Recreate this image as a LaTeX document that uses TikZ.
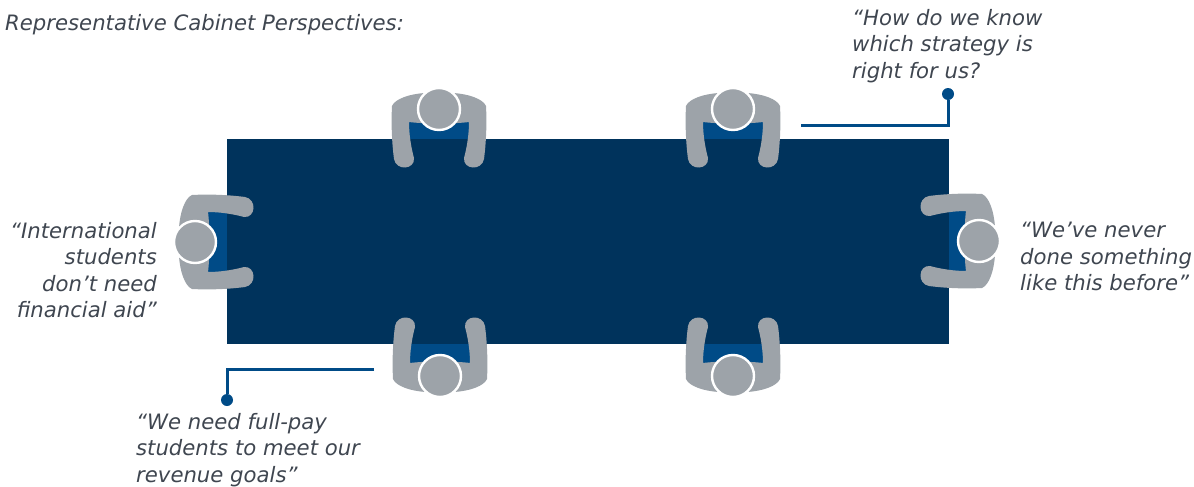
\documentclass[tikz,border=0pt]{standalone}
\usepackage{fontspec}
\setmainfont{DejaVu Sans}
\usetikzlibrary{positioning}
\definecolor{tablenavy}{HTML}{00335C}
\definecolor{vestblue}{HTML}{004B87}
\definecolor{sittergrey}{HTML}{9DA3A9}
\definecolor{quotegrey}{HTML}{3F4650}
\begin{document}
\begin{tikzpicture}[
    x=1pt, y=-1pt,
    every node/.style={font=\fontsize{21.2}{26.4}\selectfont\itshape, text=quotegrey, inner sep=0pt},
    quote/.style={align=left, anchor=north west},
    quoteright/.style={align=right, anchor=north east},
    tabletop/.style={rectangle, fill=tablenavy, minimum width=722pt, minimum height=205pt},
    lead/.style={draw=vestblue, line width=3pt},
    leaddot/.style={circle, fill=vestblue, minimum size=12pt},
    vest/.pic={\fill[vestblue] (-30,13) rectangle (30,36);},
    sitter/.pic={
        \fill[sittergrey] (-47,-3) .. controls (-44,-10) and (-30,-15) .. (-14,-16)
            -- (14,-16) .. controls (30,-15) and (44,-10) .. (47,-3)
            .. controls (48,15) and (47,35) .. (45,50)
            .. controls (43,62) and (24,61) .. (25,49)
            .. controls (28,38) and (30,25) .. (30,13)
            .. controls (15,15) and (-15,15) .. (-30,13)
            .. controls (-30,25) and (-28,38) .. (-25,49)
            .. controls (-24,61) and (-43,62) .. (-45,50)
            .. controls (-47,35) and (-48,15) .. (-47,-3) -- cycle;
        \draw[white, fill=sittergrey, line width=2.4pt] (0,0) circle (21);
    }
]
    \useasboundingbox (0,0) rectangle (1194,487);
    % vests first, the table hides their lower part
    \foreach \headx/\heady/\turn in {439/109/0, 733/109/0, 440/376/180, 733/376/180, 195/242/90, 979/241/-90}
        \pic[rotate=\turn] at (\headx,\heady) {vest};

    \node[tabletop] (table) at (588,241.5) {};

    \foreach \headx/\heady/\turn in {439/109/0, 733/109/0, 440/376/180, 733/376/180, 195/242/90, 979/241/-90}
        \pic[rotate=\turn] at (\headx,\heady) {sitter};

    \node[anchor=north west] (heading) at (5,14) {Representative Cabinet Perspectives:};
    \node[quote] (howknow) at (852,9) {“How do we know\\which strategy is\\right for us?};
    \node[quoteright] (intl) at (157,222) {“International\\students\\don’t need\\financial aid”};
    \node[quote] (never) at (1020,222) {“We’ve never\\done something\\like this before”};
    \node[quote] (fullpay) at (136,413) {“We need full-pay\\students to meet our\\revenue goals”};

    \coordinate (topstart) at (801,125);
    \coordinate (botstart) at (374,369);
    \node[leaddot] (topdot) at (948,94) {};
    \node[leaddot] (botdot) at (227,400) {};
    \draw[lead] (topstart) -| (topdot);
    \draw[lead] (botstart) -| (botdot);
\end{tikzpicture}
\end{document}
